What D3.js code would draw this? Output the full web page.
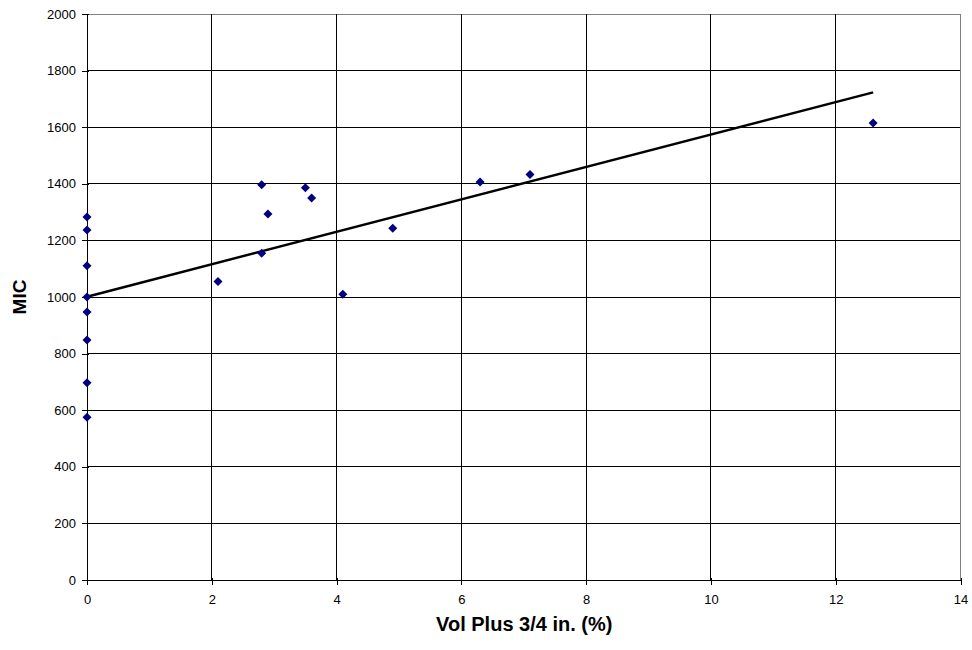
<!DOCTYPE html>
<html><head><meta charset="utf-8">
<script src="https://cdn.jsdelivr.net/npm/d3@7"></script>
<style>body{margin:0;background:#fff}svg{display:block;font-family:Arial,"Liberation Sans",sans-serif}</style>
</head><body><svg id="c" width="972" height="650"></svg>
<script>
const volPlus = [0,0,0,0,0,0,0,0,2.1,2.8,2.9,2.8,3.5,3.6,4.1,4.9,6.3,7.1,12.6];
const mic = [1283,1237,1110,1000,947,848,697,575,1055,1397,1293,1155,1386,1350,1010,1243,1406,1433,1615];
const xTicks = [0,2,4,6,8,10,12,14];
const yTicks = [0,200,400,600,800,1000,1200,1400,1600,1800,2000];
const xTitle = "Vol Plus 3/4 in. (%)";
const yTitle = "MIC";

const svg = d3.select("#c");
const L = 87, R = 960.5, T = 14, B = 580;
const x = d3.scaleLinear().domain([0,14]).range([L,R]);
const y = d3.scaleLinear().domain([0,2000]).range([B,T]);

svg.append("g").selectAll("line").data(yTicks.slice(1)).join("line")
  .attr("x1",L).attr("x2",R).attr("y1",d=>y(d)).attr("y2",d=>y(d))
  .attr("stroke",d=>d===2000?"#808080":"#000").attr("stroke-width",1).attr("shape-rendering","crispEdges");
svg.append("g").selectAll("line").data(xTicks.slice(1)).join("line")
  .attr("y1",T).attr("y2",B).attr("x1",d=>x(d)).attr("x2",d=>x(d))
  .attr("stroke",d=>d===14?"#808080":"#000").attr("stroke-width",1).attr("shape-rendering","crispEdges");

const yAxis = d3.axisLeft(y).tickValues(yTicks).tickSize(5).tickPadding(6).tickFormat(d3.format("d"));
const gy = svg.append("g").attr("transform",`translate(${L},0)`).call(yAxis);
const xAxis = d3.axisBottom(x).tickValues(xTicks).tickSize(5).tickPadding(10).tickFormat(d3.format("d"));
const gx = svg.append("g").attr("transform",`translate(0,${B})`).call(xAxis);
[gx,gy].forEach(g=>{
  g.select(".domain").attr("stroke","#000").attr("shape-rendering","crispEdges");
  g.selectAll(".tick line").attr("stroke","#000").attr("shape-rendering","crispEdges");
  g.selectAll("text").attr("font-size","13px").attr("fill","#000").attr("font-family","Arial, 'Liberation Sans', sans-serif");
});
gy.select(".domain").attr("d",`M0,${B}V${T}`);
gx.select(".domain").attr("d",`M${L},0H${R}`);
gx.selectAll(".tick line").attr("y1",-2);
gy.selectAll(".tick line").attr("x1",2);

const n = volPlus.length;
const mx = d3.mean(volPlus), my = d3.mean(mic);
let sxy=0,sxx=0;
for(let i=0;i<n;i++){sxy+=(volPlus[i]-mx)*(mic[i]-my);sxx+=(volPlus[i]-mx)**2;}
const slope = sxy/sxx, icpt = my - slope*mx;
const x0 = d3.min(volPlus), x1 = d3.max(volPlus);
svg.append("line").attr("x1",x(x0)).attr("y1",y(icpt+slope*x0)).attr("x2",x(x1)).attr("y2",y(icpt+slope*x1))
  .attr("stroke","#000").attr("stroke-width",2.5);

svg.append("g").selectAll("path").data(volPlus.map((v,i)=>[v,mic[i]])).join("path")
  .attr("d","M0,-4.5L4.5,0L0,4.5L-4.5,0Z")
  .attr("transform",d=>`translate(${x(d[0])},${y(d[1])})`)
  .attr("fill","#000080");

svg.append("text").attr("x",(L+R)/2+0.5).attr("y",631).attr("text-anchor","middle")
  .attr("font-size","20px").attr("font-weight","bold").text(xTitle);
svg.append("text").attr("transform",`translate(25.5,${(T+B)/2}) rotate(-90)`).attr("text-anchor","middle")
  .attr("font-size","19px").attr("font-weight","bold").text(yTitle);
</script></body></html>
